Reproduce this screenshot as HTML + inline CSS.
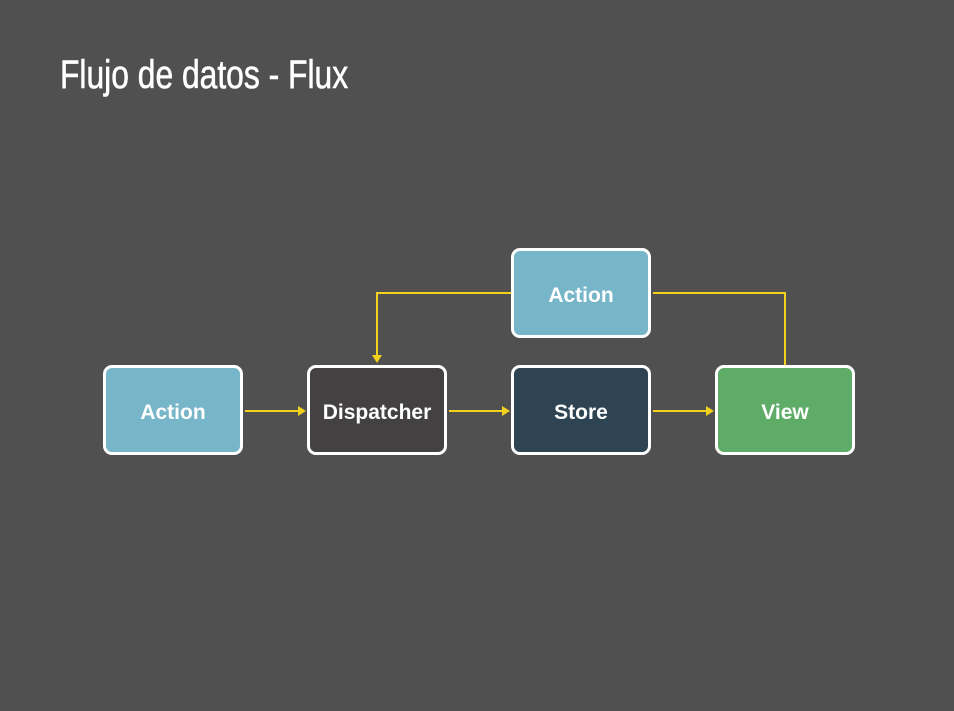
<!DOCTYPE html>
<html><head><meta charset="utf-8"><style>
body{margin:0;width:954px;height:711px;background:#505051;overflow:hidden;position:relative;font-family:"Liberation Sans",sans-serif}
.t{position:absolute;left:60px;top:53px;font-family:"Liberation Sans Narrow","Liberation Sans",sans-serif;font-size:40px;color:#fff;transform:scaleX(0.795);transform-origin:left top;white-space:nowrap;-webkit-text-stroke:0.6px #fff}
.b{position:absolute;width:134px;height:84px;border:3px solid #fff;border-radius:9px;color:#fff;font-weight:bold;font-size:21px;display:flex;align-items:center;justify-content:center;box-sizing:content-box;padding-top:0}
.b span{position:relative;top:3px}
</style></head><body>
<div class="t">Flujo de datos - Flux</div>
<svg width="954" height="711" style="position:absolute;left:0;top:0">
<g stroke="#f2d21e" stroke-width="2" fill="none">
<line x1="245" y1="411" x2="300" y2="411"/>
<line x1="449" y1="411" x2="504" y2="411"/>
<line x1="653" y1="411" x2="708" y2="411"/>
<polyline points="511,293 377,293 377,356"/>
<polyline points="653,293 785,293 785,365"/>
</g>
<g fill="#f2d21e">
<polygon points="306,411 298,406 298,416"/>
<polygon points="510,411 502,406 502,416"/>
<polygon points="714,411 706,406 706,416"/>
<polygon points="377,363 372,355 382,355"/>
</g>
</svg>
<div class="b" style="left:103px;top:365px;background:#77b5c8"><span>Action</span></div>
<div class="b" style="left:307px;top:365px;background:#434142"><span>Dispatcher</span></div>
<div class="b" style="left:511px;top:365px;background:#2e4452"><span>Store</span></div>
<div class="b" style="left:715px;top:365px;background:#5eac68"><span>View</span></div>
<div class="b" style="left:511px;top:248px;background:#77b5c8"><span>Action</span></div>
</body></html>
